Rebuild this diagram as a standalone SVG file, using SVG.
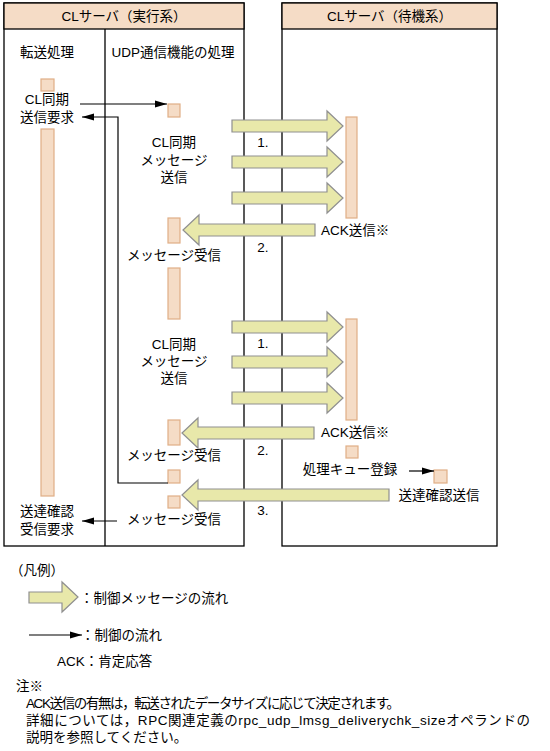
<svg xmlns="http://www.w3.org/2000/svg" width="550" height="751" viewBox="0 0 550 751">
<style>
text{font-family:"Liberation Sans","Noto Sans CJK JP",sans-serif;font-size:13.5px;fill:#000;dominant-baseline:central}
.m{text-anchor:middle}
.box{fill:#fff;stroke:#000;stroke-width:1.3}
.hdr{fill:#f5dcc6;stroke:#000;stroke-width:1.3}
.ln{stroke:#000;stroke-width:1.3;fill:none}
.act{fill:#f5dcc6;stroke:#dfae86;stroke-width:1.2}
.big{fill:#e8e8aa;stroke:#8f8f8f;stroke-width:1.2}
.thin{stroke:#000;stroke-width:1.2;fill:none;marker-end:url(#ah)}
</style>
<defs>
<marker id="ah" viewBox="0 0 12 8" refX="12" refY="4" markerWidth="12" markerHeight="8" markerUnits="userSpaceOnUse" orient="auto">
<path d="M0,0.5 L12,4 L0,7.5 Z" fill="#000"/>
</marker>
</defs>

<g id="active-server">
<rect class="box" x="4" y="3" width="240" height="543"/>
<rect class="hdr" x="4" y="3" width="240" height="26"/>
<line class="ln" x1="105" y1="29" x2="105" y2="546"/>
<text class="m" x="124" y="16">CLサーバ（実行系）</text>
<text class="m" x="47" y="52">転送処理</text>
<text class="m" x="173" y="52">UDP通信機能の処理</text>
</g>

<g id="standby-server">
<rect class="box" x="282" y="3" width="215" height="543"/>
<rect class="hdr" x="282" y="3" width="215" height="26"/>
<text class="m" x="389.5" y="16">CLサーバ（待機系）</text>
</g>

<g id="transfer-activations">
<rect class="act" x="41" y="79" width="13" height="12"/>
<rect class="act" x="41" y="129" width="13" height="367"/>
<text class="m" x="47" y="99">CL同期</text>
<text class="m" x="47" y="117">送信要求</text>
<text class="m" x="47" y="511">送達確認</text>
<text class="m" x="47" y="529">受信要求</text>
</g>

<g id="udp-activations">
<rect class="act" x="168" y="104" width="12" height="13"/>
<rect class="act" x="168" y="218" width="12" height="25"/>
<rect class="act" x="168" y="268" width="12" height="51"/>
<rect class="act" x="168" y="420" width="12" height="25"/>
<rect class="act" x="168" y="470" width="12" height="13"/>
<rect class="act" x="168" y="496" width="12" height="12"/>
<text class="m" x="174" y="142">CL同期</text>
<text class="m" x="174" y="160">メッセージ</text>
<text class="m" x="174" y="177">送信</text>
<text class="m" x="174" y="255">メッセージ受信</text>
<text class="m" x="174" y="344">CL同期</text>
<text class="m" x="174" y="361">メッセージ</text>
<text class="m" x="174" y="378">送信</text>
<text class="m" x="174" y="455">メッセージ受信</text>
<text class="m" x="174" y="519">メッセージ受信</text>
</g>

<g id="standby-activations">
<rect class="act" x="346" y="117" width="11" height="101"/>
<rect class="act" x="346" y="319" width="11" height="101"/>
<rect class="act" x="346" y="446" width="12" height="12"/>
<rect class="act" x="434" y="470" width="13" height="13"/>
<text x="321" y="230">ACK送信※</text>
<text x="321" y="432">ACK送信※</text>
<text class="m" x="350" y="469">処理キュー登録</text>
<text class="m" x="439" y="495">送達確認送信</text>
</g>

<g id="step-labels">
<text class="m" x="263" y="142">1.</text>
<text class="m" x="263" y="247">2.</text>
<text class="m" x="263" y="343">1.</text>
<text class="m" x="263" y="450">2.</text>
<text class="m" x="263" y="510">3.</text>
</g>

<g id="connectors">
<path class="big" d="M232,120 H327 V111 L343,126 L327,141 V132 H232 Z"/>
<path class="big" d="M232,156 H327 V147 L343,162 L327,177 V168 H232 Z"/>
<path class="big" d="M232,192 H327 V183 L343,198 L327,213 V204 H232 Z"/>
<path class="big" d="M315,224 H199 V215 L183,230 L199,245 V236 H315 Z"/>
<path class="big" d="M232,321 H327 V312 L343,327 L327,342 V333 H232 Z"/>
<path class="big" d="M232,356 H327 V347 L343,362 L327,377 V368 H232 Z"/>
<path class="big" d="M232,392 H327 V383 L343,398 L327,413 V404 H232 Z"/>
<path class="big" d="M314,427 H198 V418 L182,433 L198,448 V439 H314 Z"/>
<path class="big" d="M389,489 H198 V480 L182,495 L198,510 V501 H389 Z"/>
<line class="thin" x1="80" y1="104" x2="167" y2="104"/>
<polyline class="thin" points="168,483 118,483 118,117 82,117"/>
<line class="thin" x1="409" y1="471" x2="434" y2="471"/>
<line class="thin" x1="117" y1="521" x2="82" y2="521"/>
</g>

<g id="legend">
<text x="10" y="570">（凡例）</text>
<path class="big" d="M29,592 H62 V582 L78,597 L62,612 V603 H29 Z"/>
<text x="80" y="598">：制御メッセージの流れ</text>
<line class="thin" x1="29" y1="635" x2="82" y2="635"/>
<text x="81" y="635">：制御の流れ</text>
<text x="57" y="661">ACK：肯定応答</text>
</g>

<g id="note">
<text x="16" y="686">注※</text>
<text x="26" y="703" textLength="374" lengthAdjust="spacing">ACK送信の有無は，転送されたデータサイズに応じて決定されます。</text>
<text x="26" y="720" textLength="504" lengthAdjust="spacing">詳細については，RPC関連定義のrpc_udp_lmsg_deliverychk_sizeオペランドの</text>
<text x="26" y="737">説明を参照してください。</text>
</g>
</svg>
